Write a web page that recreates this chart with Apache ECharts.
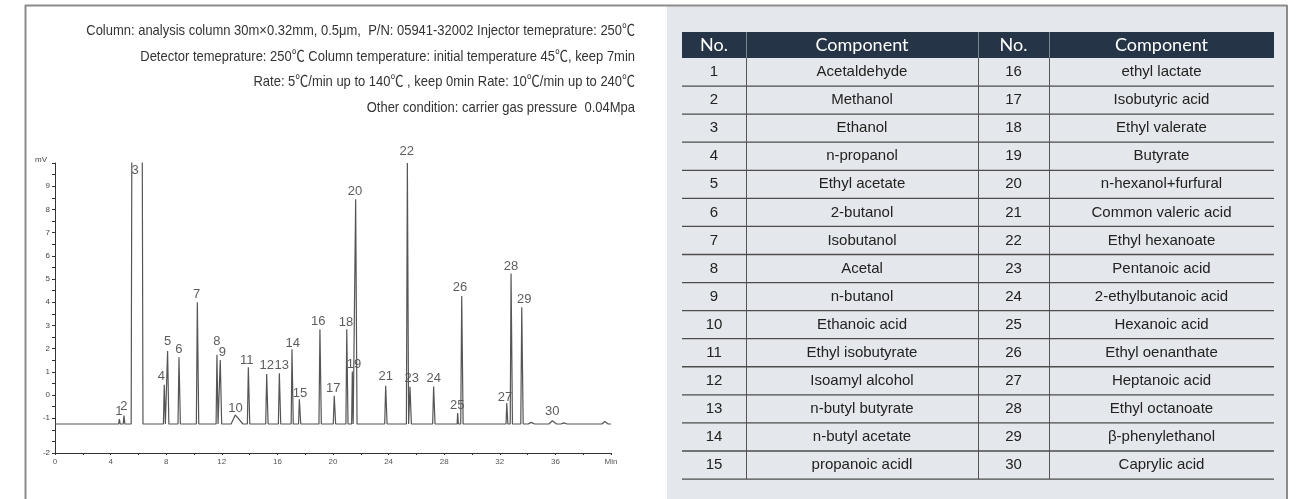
<!DOCTYPE html>
<html>
<head>
<meta charset="utf-8">
<script src="https://cdn.jsdelivr.net/npm/echarts@6/dist/echarts.min.js"></script>
<style>
html,body{margin:0;padding:0;background:#ffffff;}
#chart{width:1297px;height:499px;}
</style>
</head>
<body>
<div id="chart"></div>
<script>
// ---------- data ----------
const peakNumbers = [1,2,3,4,5,6,7,8,9,10,11,12,13,14,15,16,17,18,19,20,21,22,23,24,25,26,27,28,29,30];
const peakTimes = [4.63,4.96,5.88,7.86,8.10,8.92,10.24,11.65,11.89,12.97,13.91,15.23,16.14,17.05,17.58,19.06,20.09,20.99,21.39,21.63,23.79,25.35,25.54,27.24,28.97,29.26,32.50,32.81,33.58,35.78];
const peakHeights = [-1.04,-0.89,100,0.44,1.90,1.63,4.00,1.73,1.51,-0.86,1.20,0.90,0.94,1.97,-0.18,2.83,-0.03,2.83,1.01,8.44,0.40,10.0,0.35,0.37,-0.78,4.27,-0.35,5.24,3.78,-1.11];
const peakLeftWidths = [0.05,0.05,0.40,0.06,0.06,0.07,0.07,0.06,0.06,0.30,0.07,0.07,0.07,0.06,0.06,0.07,0.07,0.06,0.05,0.06,0.07,0.07,0.05,0.07,0.04,0.07,0.05,0.06,0.07,0.25];
const peakRightWidths = [0.06,0.07,0.45,0.08,0.09,0.10,0.10,0.08,0.10,0.55,0.10,0.10,0.10,0.09,0.10,0.10,0.10,0.09,0.06,0.10,0.10,0.09,0.10,0.10,0.05,0.10,0.08,0.10,0.10,0.30];
const minorTimes = [34.25, 36.6, 39.55];
const minorHeights = [-1.18, -1.20, -1.14];
const baselineLevel = -1.25;
const runStart = 0;
const runEnd = 40;

const labelTimes = [4.60,4.96,5.76,7.65,8.11,8.92,10.19,11.65,12.04,12.99,13.79,15.23,16.31,17.10,17.63,18.94,20.02,20.94,21.51,21.58,23.79,25.30,25.66,27.24,28.94,29.14,32.37,32.81,33.76,35.78];
const labelValues = [-0.71,-0.49,9.66,0.80,2.30,1.97,4.34,2.33,1.85,-0.56,1.51,1.26,1.26,2.23,0.05,3.16,0.30,3.12,1.30,8.78,0.80,10.50,0.70,0.70,-0.45,4.62,-0.11,5.56,4.14,-0.71];

const xTickValues = [0,4,8,12,16,20,24,28,32,36,40];
const xTickLabels = ['0','4','8','12','16','20','24','28','32','36','Min'];
const yTickValues = [-2.5,-1,0,1,2,3,4,5,6,7,8,9];
const yTickLabels = ['-2','-1','0','1','2','3','4','5','6','7','8','9'];
const yUnit = 'mV';

const componentNames = ['Acetaldehyde','Methanol','Ethanol','n-propanol','Ethyl acetate','2-butanol','Isobutanol','Acetal','n-butanol','Ethanoic acid','Ethyl isobutyrate','Isoamyl alcohol','n-butyl butyrate','n-butyl acetate','propanoic acidl','ethyl lactate','Isobutyric acid','Ethyl valerate','Butyrate','n-hexanol+furfural','Common valeric acid','Ethyl hexanoate','Pentanoic acid','2-ethylbutanoic acid','Hexanoic acid','Ethyl oenanthate','Heptanoic acid','Ethyl octanoate','β-phenylethanol','Caprylic acid'];
const tableHeaders = ['No.','Component','No.','Component'];

const conditionLines = [
  'Column: analysis column 30m×0.32mm, 0.5μm,  P/N: 05941-32002 Injector temeprature: 250℃',
  'Detector temeprature: 250℃ Column temperature: initial temperature 45℃, keep 7min',
  'Rate: 5℃/min up to 140℃ , keep 0min Rate: 10℃/min up to 240℃',
  'Other condition: carrier gas pressure  0.04Mpa'
];

// ---------- build trace from peak table ----------
const pts = [[runStart, baselineLevel],[runEnd, baselineLevel]];
peakTimes.forEach((t,i)=>{
  pts.push([t-peakLeftWidths[i], baselineLevel]);
  pts.push([t, peakHeights[i]]);
  pts.push([t+peakRightWidths[i], baselineLevel]);
});
minorTimes.forEach((t,i)=>{
  pts.push([t-0.2, baselineLevel]);
  pts.push([t, minorHeights[i]]);
  pts.push([t+0.25, baselineLevel]);
});
pts.sort((a,b)=>a[0]-b[0]);

const labelData = peakNumbers.map((n,i)=>[labelTimes[i], labelValues[i], String(n)]);

// ---------- layout ----------
const W = 1297, H = 499;
const frameColor = '#8c8c8c';
const panelX = 667;
const tLeft = 682, tRight = 1274, hTop = 32, hH = 26, rowH = 28.07;
const colEdges = [682, 746, 978, 1049, 1274];
const rowsPerSide = 15;
const condFont = '15px "Liberation Sans", Arial, "Noto Sans CJK SC", sans-serif';
const cellFont = '15px "Liberation Sans", Arial, sans-serif';
const headFont = '18px Lato, "Open Sans", sans-serif';

const g = [];
g.push({type:'rect', shape:{x:panelX, y:6, width:1287-panelX, height:H-6}, style:{fill:'#e4e7eb'}, silent:true, z:0});
g.push({type:'line', shape:{x1:25, y1:5.5, x2:1287, y2:5.5}, style:{stroke:frameColor, lineWidth:2}, silent:true});
g.push({type:'line', shape:{x1:25.5, y1:5, x2:25.5, y2:H}, style:{stroke:frameColor, lineWidth:2}, silent:true});
g.push({type:'line', shape:{x1:1287, y1:5, x2:1287, y2:H}, style:{stroke:frameColor, lineWidth:2}, silent:true});
const condY = [31, 56.5, 82, 107.5];
conditionLines.forEach((s,i)=>{
  g.push({type:'text', silent:true, x:635, y:condY[i], scaleX:0.865, scaleY:1,
    style:{text:s, x:0, y:0, font:condFont, fill:'#333333', align:'right', verticalAlign:'middle', textAlign:'right', textVerticalAlign:'middle'}});
});
g.push({type:'text', silent:true, style:{text:yUnit, x:41, y:160, font:'8px "Liberation Sans", Arial, sans-serif', fill:'#444', align:'center', verticalAlign:'middle', textAlign:'center', textVerticalAlign:'middle'}});

g.push({type:'rect', silent:true, shape:{x:tLeft, y:hTop, width:tRight-tLeft, height:hH}, style:{fill:'#253446'}});
for (let k=1;k<colEdges.length-1;k++){
  g.push({type:'line', silent:true, shape:{x1:colEdges[k]+0.5, y1:hTop, x2:colEdges[k]+0.5, y2:hTop+hH}, style:{stroke:'#7d8793', lineWidth:1}});
}
tableHeaders.forEach((h,k)=>{
  g.push({type:'text', silent:true, style:{text:h, x:(colEdges[k]+colEdges[k+1])/2, y:hTop+hH/2+0.5, font:headFont, fill:'#ffffff', align:'center', verticalAlign:'middle', textAlign:'center', textVerticalAlign:'middle'}});
});
const bodyTop = hTop + hH;
const bodyBottom = bodyTop + rowsPerSide*rowH;
for (let k=1;k<colEdges.length-1;k++){
  g.push({type:'line', silent:true, shape:{x1:colEdges[k]+0.5, y1:bodyTop, x2:colEdges[k]+0.5, y2:bodyBottom}, style:{stroke:'#555555', lineWidth:1}});
}
for (let r=0;r<rowsPerSide;r++){
  const yb = bodyTop + (r+1)*rowH;
  g.push({type:'line', silent:true, shape:{x1:tLeft, y1:yb, x2:tRight, y2:yb}, style:{stroke:'#4d4d4d', lineWidth:1.3}});
  const yc = bodyTop + r*rowH + rowH/2;
  [r, r+rowsPerSide].forEach((idx,side)=>{
    const c0 = side*2;
    g.push({type:'text', silent:true, style:{text:String(peakNumbers[idx]), x:(colEdges[c0]+colEdges[c0+1])/2, y:yc, font:cellFont, fill:'#222222', align:'center', verticalAlign:'middle', textAlign:'center', textVerticalAlign:'middle'}});
    g.push({type:'text', silent:true, style:{text:componentNames[idx], x:(colEdges[c0+1]+colEdges[c0+2])/2, y:yc, font:cellFont, fill:'#222222', align:'center', verticalAlign:'middle', textAlign:'center', textVerticalAlign:'middle'}});
  });
}

const chart = echarts.init(document.getElementById('chart'), null, {renderer:'canvas'});
chart.setOption({
  animation:false,
  backgroundColor:'#ffffff',
  grid:{left:55, right:W-611, top:163, bottom:46, containLabel:false},
  xAxis:{
    type:'value', min:runStart, max:runEnd, interval:2,
    axisLine:{onZero:false, lineStyle:{color:'#333333', width:1}},
    axisTick:{show:true, length:2, lineStyle:{color:'#333333'}},
    axisLabel:{show:true, showMaxLabel:true, showMinLabel:true, margin:5, fontSize:8, color:'#555555', fontFamily:'"Liberation Sans", Arial, sans-serif',
      formatter:v=>{const i=xTickValues.indexOf(v); return i>=0?xTickLabels[i]:'';}},
    splitLine:{show:false}
  },
  yAxis:{
    type:'value', min:-2.5, max:10, interval:0.5,
    axisLine:{show:true, onZero:false, lineStyle:{color:'#333333', width:1}},
    axisTick:{show:true, length:3, lineStyle:{color:'#333333'}},
    axisLabel:{show:true, showMaxLabel:true, showMinLabel:true, margin:5, fontSize:8, color:'#444444', fontFamily:'"Liberation Sans", Arial, sans-serif',
      formatter:v=>{const i=yTickValues.findIndex(x=>Math.abs(x-v)<1e-6); return i>=0?yTickLabels[i]:'';}},
    splitLine:{show:false}
  },
  series:[
    {type:'line', data:pts, symbol:'none', clip:true, silent:true,
      lineStyle:{color:'#555555', width:1.2}},
    {type:'scatter', data:labelData, symbolSize:1, clip:false, silent:true,
      itemStyle:{color:'rgba(0,0,0,0)'},
      label:{show:true, position:'inside', formatter:p=>p.data[2], fontSize:13, color:'#333333', fontFamily:'"Liberation Sans", Arial, sans-serif'}}
  ],
  graphic:{elements:g}
});
</script>
</body>
</html>
